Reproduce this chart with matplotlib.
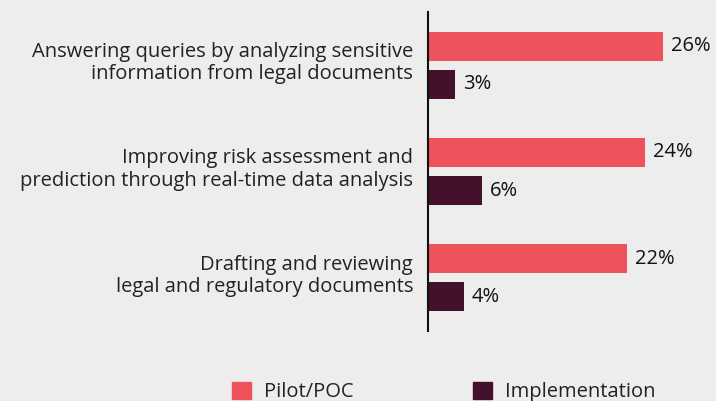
import numpy as np
import matplotlib.pyplot as plt
import matplotlib.transforms as mtransforms
from matplotlib.patches import Patch

plt.rcParams['font.family'] = ['Open Sans', 'DejaVu Sans']

categories = [
    'Answering queries by analyzing sensitive\ninformation from legal documents',
    'Improving risk assessment and\nprediction through real-time data analysis',
    'Drafting and reviewing\nlegal and regulatory documents',
]
pilot = [26, 24, 22]
implementation = [3, 6, 4]

bg = '#ededed'
c_pilot = '#ee525a'
c_impl = '#43112b'
fs = 14.5

fig = plt.figure(figsize=(7.16, 4.01), dpi=100, facecolor=bg)
ax = fig.add_axes([428 / 716, 1 - 331 / 401, 288 / 716, 319 / 401])
ax.set_facecolor(bg)

y = np.arange(len(categories))
h = 0.273
off = 0.179
ax.barh(y - off, pilot, height=h, color=c_pilot)
ax.barh(y + off, implementation, height=h, color=c_impl)

for yi, v in zip(y, pilot):
    ax.text(v + 0.85, yi - off, f'{v}%', va='center', ha='left', fontsize=fs, color='#111111')
for yi, v in zip(y, implementation):
    ax.text(v + 0.85, yi + off, f'{v}%', va='center', ha='left', fontsize=fs, color='#111111')

ax.set_xlim(0, 288 / 9.04)
ax.set_ylim(2.5, -0.5)
ax.set_yticks(y)
ax.set_yticklabels(categories, fontsize=fs, color='#222222', linespacing=1.15)
ax.tick_params(axis='y', length=0, pad=10.8)
# labels sit slightly above the group centre in the original
shift = mtransforms.ScaledTranslation(0, 0.055, fig.dpi_scale_trans)
for lbl in ax.get_yticklabels():
    lbl.set_transform(lbl.get_transform() + shift)
ax.set_xticks([])
for s in ['top', 'right', 'bottom']:
    ax.spines[s].set_visible(False)
ax.spines['left'].set_color('#111111')
ax.spines['left'].set_linewidth(1.5)

handles = [Patch(color=c_pilot, label='Pilot/POC'), Patch(color=c_impl, label='Implementation')]
fig.legend(handles=handles, loc='center', bbox_to_anchor=(0.62, 0.022), ncol=2, frameon=False,
           fontsize=fs, handlelength=0.95, handleheight=0.95, handletextpad=0.65, columnspacing=5.9,
           labelcolor='#222222', borderpad=0)

fig.savefig('out.png', dpi=100, facecolor=bg)
